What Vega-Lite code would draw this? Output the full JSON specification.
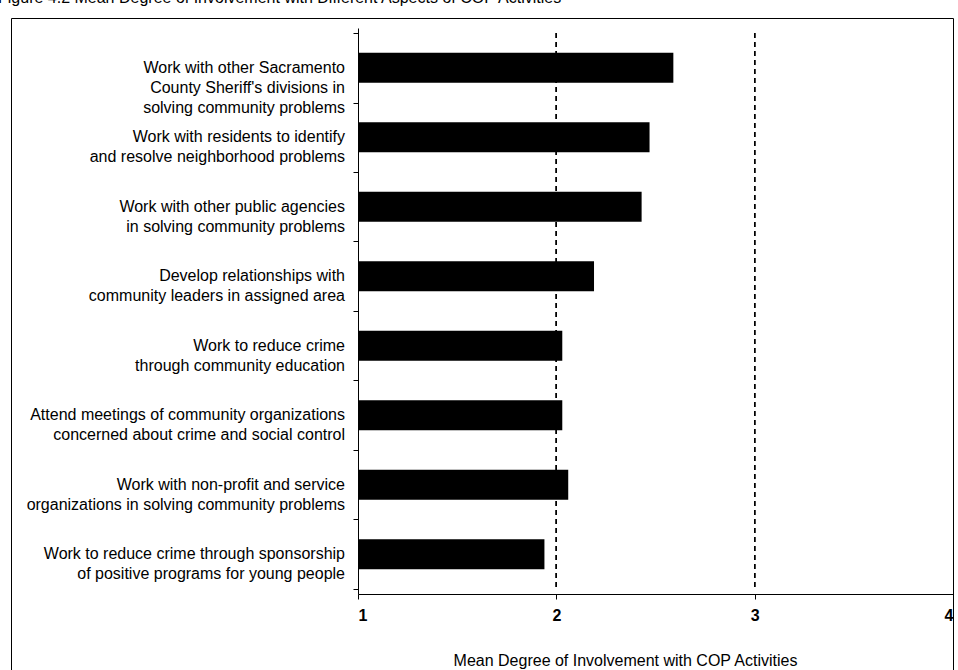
{
  "$schema": "https://vega.github.io/schema/vega-lite/v6.json",
  "autosize": {"type": "none"},
  "padding": {"left": 11, "top": 18, "right": 5, "bottom": 0},
  "width": 942,
  "height": 652,
  "background": "white",
  "title": {
    "text": "Figure 4.2  Mean Degree of Involvement with Different Aspects of COP  Activities",
    "anchor": "start",
    "frame": "group",
    "orient": "top",
    "offset": 1,
    "baseline": "alphabetic",
    "dx": -13,
    "dy": 2,
    "font": "Liberation Sans",
    "fontSize": 16,
    "fontWeight": "normal",
    "color": "black"
  },
  "data": {
    "values": [
      {"order": 1, "activity": "Work with other Sacramento|County Sheriff's divisions in|solving community problems", "mean": 2.59},
      {"order": 2, "activity": "Work with residents to identify|and resolve neighborhood problems", "mean": 2.47},
      {"order": 3, "activity": "Work with other public agencies|in solving community problems", "mean": 2.43},
      {"order": 4, "activity": "Develop relationships with|community leaders in assigned area", "mean": 2.19},
      {"order": 5, "activity": "Work to reduce crime|through community education", "mean": 2.03},
      {"order": 6, "activity": "Attend meetings of community organizations|concerned about crime and social control", "mean": 2.03},
      {"order": 7, "activity": "Work with non-profit and service|organizations in solving community problems", "mean": 2.06},
      {"order": 8, "activity": "Work to reduce crime through sponsorship|of positive programs for young people", "mean": 1.94}
    ]
  },
  "encoding": {
    "y": {
      "field": "order",
      "type": "quantitative",
      "scale": {"domain": [0.5, 8.5], "range": [10, 576], "zero": false, "nice": false},
      "axis": {
        "orient": "left",
        "offset": -347,
        "values": [0.5, 1.5, 2.5, 3.5, 4.5, 5.5, 6.5, 7.5, 8.5],
        "labels": false,
        "grid": false,
        "ticks": true,
        "tickSize": 5,
        "title": null,
        "domainColor": "black",
        "tickColor": "black"
      }
    }
  },
  "layer": [
    {
      "mark": {"type": "rule", "color": "black", "strokeWidth": 1, "strokeDash": [5, 4]},
      "encoding": {
        "x": {"datum": 2, "type": "quantitative"},
        "y": {"datum": 0.5},
        "y2": {"datum": 8.5}
      }
    },
    {
      "mark": {"type": "rule", "color": "black", "strokeWidth": 1, "strokeDash": [5, 4]},
      "encoding": {
        "x": {"datum": 3, "type": "quantitative"},
        "y": {"datum": 0.5},
        "y2": {"datum": 8.5}
      }
    },
    {
      "mark": {"type": "bar", "color": "black", "height": 30},
      "encoding": {
        "x": {
          "field": "mean",
          "type": "quantitative",
          "scale": {"domain": [1, 4], "range": [347, 942], "zero": false, "nice": false},
          "axis": {
            "orient": "bottom",
            "offset": -76,
            "values": [1, 2, 3, 4],
            "format": "d",
            "grid": false,
            "tickSize": 5,
            "labelPadding": 8,
            "labelFontSize": 16,
            "labelFontWeight": "bold",
            "labelFont": "Liberation Sans",
            "labelColor": "black",
            "domainColor": "black",
            "tickColor": "black",
            "title": "Mean Degree of Involvement with COP Activities",
            "titleFont": "Liberation Sans",
            "titleFontSize": 16,
            "titleFontWeight": "normal",
            "titleColor": "black",
            "titleX": 614,
            "titleY": 66,
            "titleBaseline": "middle",
            "titleAlign": "center"
          }
        },
        "x2": {"datum": 1}
      }
    },
    {
      "mark": {
        "type": "text",
        "align": "right",
        "baseline": "middle",
        "dx": -13,
        "lineBreak": "|",
        "lineHeight": 20,
        "font": "Liberation Sans",
        "fontSize": 16,
        "color": "black"
      },
      "encoding": {
        "x": {"datum": 1, "type": "quantitative"},
        "text": {"field": "activity"}
      }
    }
  ],
  "config": {
    "view": {"stroke": "black", "strokeWidth": 1},
    "axis": {"domainWidth": 1, "tickWidth": 1}
  }
}
